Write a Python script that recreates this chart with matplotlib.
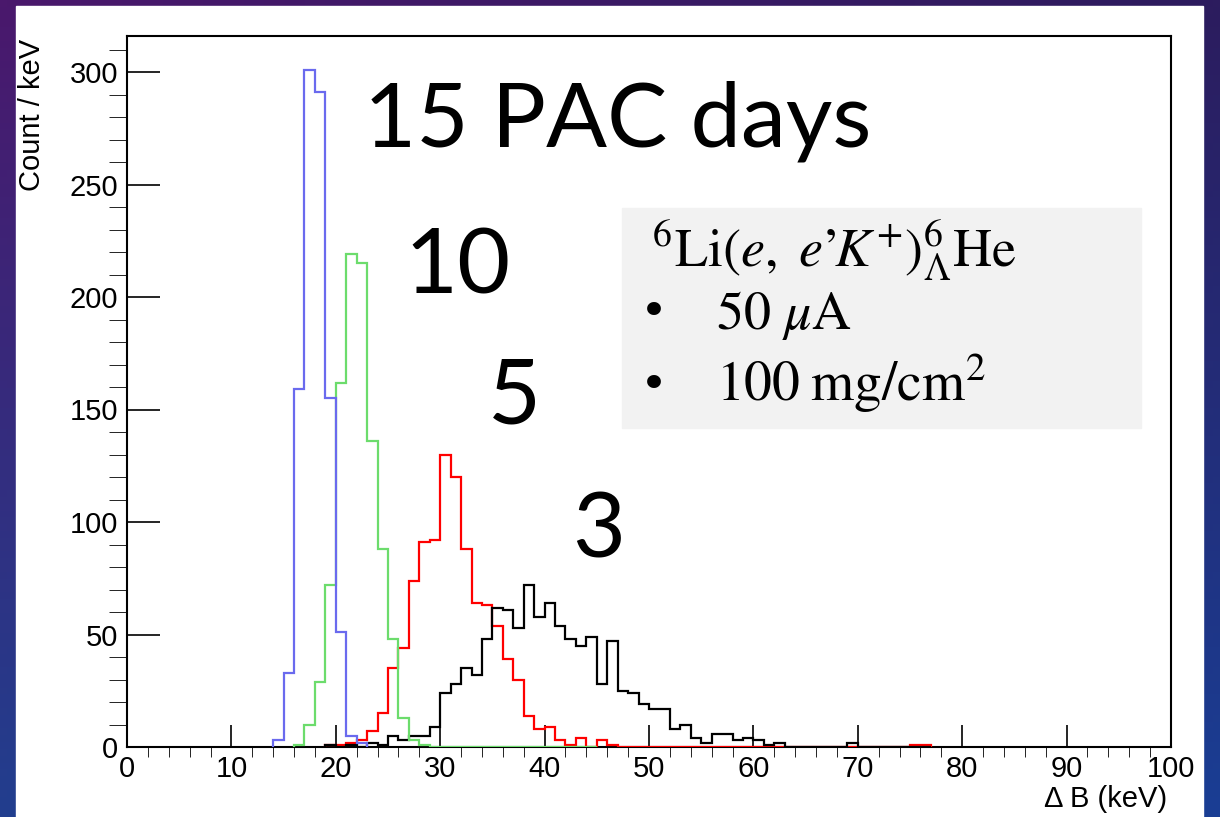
import numpy as np
import matplotlib.pyplot as plt
from matplotlib.patches import Rectangle

# bin contents per 1 keV bin; each list starts at *_start keV
blue_start = 14
blue_counts = [3, 33, 159, 301, 291, 155, 51, 5, 2]

green_start = 16
green_counts = [1, 10, 29, 72, 162, 219, 215, 136, 88, 48, 13, 3, 1,
                0, 0, 0, 0, 0, 0, 0, 0, 0, 0, 0, 0, 0, 0, 0, 0]

red_start = 19
red_counts = [1, 1, 2, 3, 7, 15, 35, 44, 74, 91, 92, 130, 120, 88, 64, 63,
              54, 39, 30, 14, 8, 9, 3, 1, 4, 0, 3, 1,
              0, 0, 0, 0, 0, 0, 0, 0, 0, 0, 0, 0, 0, 0, 0, 0,
              0, 0, 0, 0, 0, 0, 0, 0, 0, 0, 0, 0, 1, 1]

black_start = 19
black_counts = [1, 0, 1, 0, 2, 1, 5, 3, 5, 5, 9, 24, 28, 35, 32, 48, 62, 61,
                53, 72, 58, 64, 54, 48, 45, 49, 28, 47, 25, 24, 19, 17, 17,
                8, 10, 4, 2, 6, 6, 3, 4, 3, 1, 2,
                0, 0, 0, 0, 0, 0, 2, 0, 0, 0, 0, 0, 0, 0]

days_labels = ["15 PAC days", "10", "5", "3"]

W, H = 1220, 817
fig = plt.figure(figsize=(W / 100, H / 100), dpi=100)
plt.rcParams['mathtext.fontset'] = 'stix'
root_font = 'Liberation Sans'


def px(x, y):  # pixel position -> figure fraction
    return x / W, 1 - y / H


# slide background
bg = fig.add_axes([0, 0, 1, 1], zorder=-2)
yy, xx = np.mgrid[0:1:120j, 0:1:180j]
tl = np.array([74, 24, 108]) / 255
tr = np.array([44, 28, 94]) / 255
bl = np.array([34, 62, 142]) / 255
br = np.array([26, 62, 148]) / 255
xx, yy = xx[..., None], yy[..., None]
img = tl * (1 - xx) * (1 - yy) + tr * xx * (1 - yy) + bl * (1 - xx) * yy + br * xx * yy
bg.imshow(img, aspect='auto', extent=[0, 1, 0, 1])
bg.axis('off')
fig.add_artist(Rectangle(px(16, 817), (1203 - 16) / W, (817 - 6) / H,
                         transform=fig.transFigure, color='white', zorder=-1))

ax = fig.add_axes([127 / W, 1 - 747 / H, 1044 / W, 711 / H])

for start, counts, col in [(red_start, red_counts, '#ff0000'),
                           (black_start, black_counts, '#000000'),
                           (green_start, green_counts, '#6cdc6c'),
                           (blue_start, blue_counts, '#6a6aee')]:
    counts = np.array(counts, float)
    edges = start + np.arange(len(counts) + 1)
    ax.stairs(counts, edges, baseline=0, color=col, lw=1.6, zorder=3)

ax.set_xlim(0, 100)
ax.set_ylim(0, 316)
ax.set_xticks(np.arange(0, 101, 10))
ax.set_xticks(np.arange(0, 101, 2), minor=True)
ax.set_yticks(np.arange(0, 301, 50))
ax.set_yticks(np.arange(0, 316, 10), minor=True)
for s in ax.spines.values():
    s.set_linewidth(1.5)
ax.tick_params(direction='in', width=1.2, labelsize=21, labelfontfamily=root_font)
ax.tick_params(axis='x', which='major', length=16, pad=6)
ax.tick_params(axis='x', which='minor', length=7.5)
ax.tick_params(axis='y', which='major', length=23.5, pad=6.5)
ax.tick_params(axis='y', which='minor', length=13)

ax.set_xlabel('Δ B (keV)', loc='right', fontsize=21, family=root_font)
ax.xaxis.set_label_coords(0.996, -0.053)
ax.set_ylabel('Count / keV', loc='top', fontsize=21, family=root_font)
ax.yaxis.set_label_coords(-0.078, 0.996)

# running-time annotations
big = dict(family='Lato', va='baseline', ha='left', color='black')
fig.text(*px(364, 146), days_labels[0], fontsize=65, **big)
fig.text(*px(404, 293), days_labels[1], fontsize=66, **big)
fig.text(*px(488, 423), days_labels[2], fontsize=66, **big)
fig.text(*px(572, 557), days_labels[3], fontsize=66, **big)

# info box
fig.add_artist(Rectangle(px(622, 428), (1141 - 622) / W, (428 - 208) / H,
                         transform=fig.transFigure, color='#f2f2f2', zorder=5))
fig.text(*px(652, 266), r"$^{6}\mathrm{Li}(e,\ e’\!K^{+})^{6}_{\Lambda}\mathrm{He}$",
         fontsize=39, va='baseline', zorder=6)
fig.text(*px(654, 314), '•', fontsize=34, ha='center', va='center', zorder=6)
fig.text(*px(654, 387), '•', fontsize=34, ha='center', va='center', zorder=6)
fig.text(*px(716, 329), r'$50\ \mu\mathrm{A}$', fontsize=39, va='baseline', zorder=6)
fig.text(*px(716, 401), r'$100\;\mathrm{mg/cm}^{2}$', fontsize=40, va='baseline', zorder=6)

fig.savefig('out.png', dpi=100)
